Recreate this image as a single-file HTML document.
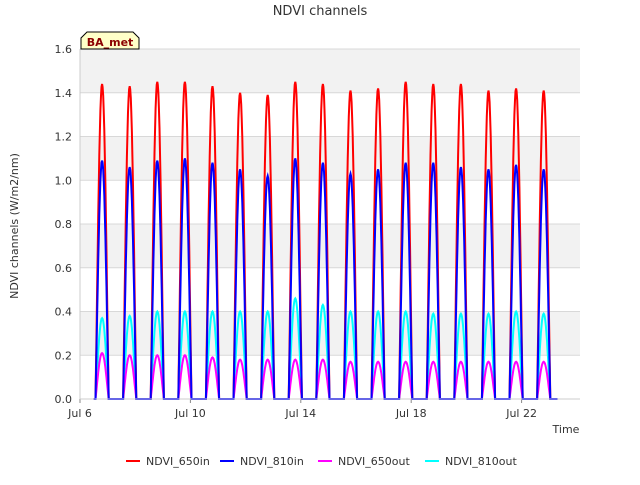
<!DOCTYPE html>
<html><head><meta charset="utf-8"><style>
body{margin:0;background:#fff;font-family:"Liberation Sans",sans-serif}
svg text{font-family:"DejaVu Sans","Liberation Sans",sans-serif}
</style></head><body>
<svg width="640" height="480" xmlns="http://www.w3.org/2000/svg">
<text x="320" y="15" text-anchor="middle" font-size="13" fill="#333">NDVI channels</text>
<g id="bands"></g>
<g id="grid"></g>
<g id="series"></g>
<g id="axes"></g>
<text transform="translate(18,226) rotate(-90)" text-anchor="middle" font-size="11" fill="#333">NDVI channels (W/m2/nm)</text>
<text x="566" y="433" text-anchor="middle" font-size="11" fill="#333">Time</text>
<g>
<path d="M81,49 L81,38 L87,32 L133,32 L139,38 L139,49 Z" fill="#ffffc8" stroke="#000" stroke-width="1"/>
<text x="110" y="46" text-anchor="middle" font-size="11" font-weight="bold" fill="#8b0000">BA_met</text>
</g>
<g id="legend"></g>
</svg>
<script>
const yTicks=[0,0.2,0.4,0.6,0.8,1.0,1.2,1.4,1.6];
const xTickDays=[0,4,8,12,16];
const xTickLabels=["Jul 6","Jul 10","Jul 14","Jul 18","Jul 22"];
const dayCenters=[0.8,1.8,2.8,3.8,4.8,5.8,6.8,7.8,8.8,9.8,10.8,11.8,12.8,13.8,14.8,15.8,16.8];
const peak650in=[1.44,1.43,1.45,1.45,1.43,1.40,1.39,1.45,1.44,1.41,1.42,1.45,1.44,1.44,1.41,1.42,1.41];
const peak810in=[1.09,1.06,1.09,1.10,1.08,1.05,1.02,1.10,1.08,1.03,1.05,1.08,1.08,1.06,1.05,1.07,1.05];
const peak650out=[0.21,0.20,0.20,0.20,0.19,0.18,0.18,0.18,0.18,0.17,0.17,0.17,0.17,0.17,0.17,0.17,0.17];
const peak810out=[0.37,0.38,0.40,0.40,0.40,0.40,0.40,0.46,0.43,0.40,0.40,0.40,0.39,0.39,0.39,0.40,0.39];
const seriesNames=["NDVI_650in","NDVI_810in","NDVI_650out","NDVI_810out"];
const NS="http://www.w3.org/2000/svg";
const X0=80,X1=580,Y0=399,Y1=49;
const xs=d=>X0+d*27.6;
const ys=v=>Y0-(v/1.6)*(Y0-Y1);
function mk(tag,attrs,parent){const e=document.createElementNS(NS,tag);for(const k in attrs)e.setAttribute(k,attrs[k]);parent.appendChild(e);return e;}
const bands=document.getElementById('bands'),grid=document.getElementById('grid'),axes=document.getElementById('axes'),ser=document.getElementById('series'),leg=document.getElementById('legend');
mk('rect',{x:X0,y:Y1,width:X1-X0,height:Y0-Y1,fill:'#fff'},bands);
for(let i=0;i<yTicks.length-1;i++){if(i%2===1){const r=mk('rect',{x:X0,y:ys(yTicks[i+1]),width:X1-X0,height:ys(yTicks[i])-ys(yTicks[i+1]),fill:'#f2f2f2'},bands);

}}
yTicks.forEach(v=>{const l=mk('line',{x1:X0,x2:X1,y1:ys(v),y2:ys(v),stroke:'#d8d8d8','stroke-width':1},grid);


const t=mk('text',{x:X0-8,y:ys(v)+4,'text-anchor':'end','font-size':11,fill:'#333'},axes);t.textContent=v.toFixed(1);

});
xTickDays.forEach((d,i)=>{const t=mk('text',{x:xs(d),y:Y0+18,'text-anchor':'middle','font-size':11,fill:'#333'},axes);t.textContent=xTickLabels[i];


mk('line',{x1:xs(d),x2:xs(d),y1:Y0,y2:Y0+4,stroke:'#888'},axes);});
mk('line',{x1:X0,x2:X0,y1:Y1,y2:Y0,stroke:'#ccc'},axes);
mk('line',{x1:X0,x2:X1,y1:Y0,y2:Y0,stroke:'#ccc'},axes);
function pathFor(peaks){let d='M'+xs(0.5)+','+ys(0);const hw=0.24;
dayCenters.forEach((c,i)=>{d+=' L'+xs(c-hw).toFixed(1)+','+ys(0).toFixed(1);
for(let k=0;k<=24;k++){const t=c-hw+2*hw*k/24;const v=peaks[i]*Math.pow(Math.sin(Math.PI*k/24),1.1);d+=' L'+xs(t).toFixed(1)+','+ys(v).toFixed(1);}
});d+=' L'+xs(17.3)+','+ys(0);return d;}
const all=[[peak650in,'#ff0000'],[peak810in,'#0000ff'],[peak650out,'#ff00ff'],[peak810out,'#00ffff']];
[3,2,0,1].forEach(i=>{const p=mk('path',{d:pathFor(all[i][0]),fill:'none',stroke:all[i][1],'stroke-width':2},ser);

});
const lx=[126,220,318,425];
seriesNames.forEach((n,i)=>{const g=mk('g',{},leg);


mk('line',{x1:lx[i],x2:lx[i]+14,y1:461,y2:461,stroke:all[i][1],'stroke-width':2},g);
const t=mk('text',{x:lx[i]+20,y:465,'font-size':11,fill:'#333'},g);t.textContent=n;});
</script>
</body></html>
